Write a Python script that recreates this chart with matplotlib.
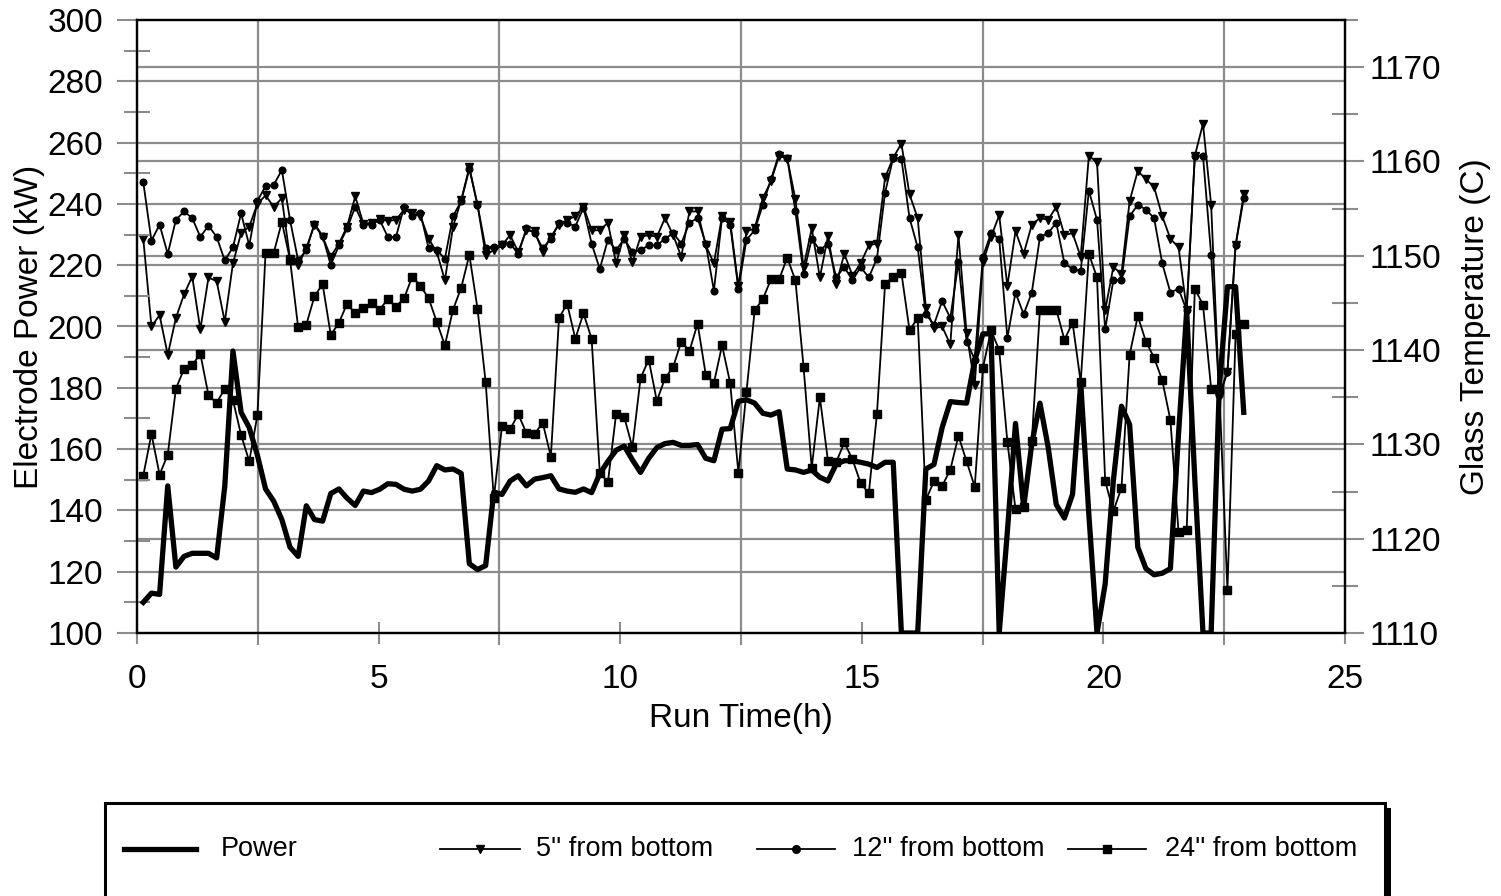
import matplotlib
matplotlib.use('Agg')
import matplotlib.pyplot as plt
from matplotlib.lines import Line2D
from matplotlib.patches import Rectangle
from matplotlib.ticker import MultipleLocator, FixedLocator
import numpy as np

plt.rcParams['font.family'] = ['Liberation Sans', 'DejaVu Sans']

# readings start at 0.13 h, one every ~10 min
t_start = 0.13
t_step = 0.1687

power_kw = [
    110, 113, 112.6, 148, 121.5, 125, 126, 126, 126, 124.5, 148, 192, 172, 167, 158, 147, 143, 137, 128, 125, 141.5, 137, 136.5, 145.5, 147,
    144, 141.6, 146.3, 145.8, 146.9, 148.7, 148.5, 146.9, 146.3, 146.9, 149.6, 154.6, 153.2, 153.5, 152.1, 122.6, 120.7, 122, 146, 145.2, 149.6, 151.3, 148, 150.2,
    150.7, 151.3, 147, 146.3, 145.9, 147, 145.8, 152, 156, 159.6, 161, 156.5, 152.4, 157, 160.5, 161.8, 162.2, 161.2, 161.2, 161.5, 157, 156.2, 166.5, 166.7,
    175.6, 176.1, 175, 171.7, 171.1, 172.2, 153.5, 153.2, 152.4, 153.2, 150.8, 149.6, 155.1, 156.2, 156.2, 155.7, 155.1, 154, 155.7, 155.7, 100, 100, 100, 153.5, 155,
    167, 175.5, 175.2, 175, 189, 197.6, 197.6, 100, 133, 168.4, 141, 161.8, 175, 160.7, 141.9, 137.5, 145.3, 181.6, 138.6, 100, 116, 149.6, 174, 168, 128,
    121, 119, 119.5, 121, 165, 205, 150, 100, 100, 180, 213, 213, 172,
]

temp_5in = [
    1151.8, 1142.5, 1143.7, 1139.5, 1143.4, 1145.9, 1147.8, 1142.2, 1147.7, 1147.3, 1143.0, 1149.2, 1152.4, 1153.1, 1155.5, 1156.4, 1155.2, 1156.1, 1149.7, 1149.0, 1150.8, 1153.3, 1152.0, 1149.9, 1151.3,
    1153.1, 1156.3, 1153.4, 1153.5, 1153.9, 1153.7, 1153.8, 1154.9, 1154.5, 1154.2, 1151.8, 1150.4, 1147.4, 1153.1, 1155.9, 1159.4, 1155.4, 1150.1, 1150.6, 1151.1, 1152.2, 1150.4, 1152.7, 1152.6,
    1150.4, 1152.0, 1153.3, 1153.8, 1154.2, 1155.2, 1152.7, 1152.7, 1153.5, 1149.2, 1152.2, 1149.3, 1152.0, 1152.2, 1152.0, 1154.0, 1152.2, 1149.9, 1154.7, 1154.7, 1151.1, 1149.2, 1154.2, 1153.6,
    1146.8, 1152.6, 1152.9, 1156.1, 1157.9, 1160.6, 1160.3, 1156.0, 1148.8, 1152.9, 1147.7, 1152.1, 1147.0, 1150.2, 1147.9, 1149.2, 1151.1, 1151.3, 1158.3, 1160.4, 1161.9, 1156.5, 1154.0, 1144.5, 1142.3,
    1142.5, 1140.6, 1152.2, 1141.8, 1136.3, 1149.3, 1152.0, 1154.3, 1146.8, 1152.6, 1150.2, 1153.3, 1154.0, 1153.8, 1155.2, 1152.2, 1152.4, 1149.9, 1160.6, 1159.9, 1144.2, 1148.8, 1148.1, 1155.8, 1159.0,
    1158.1, 1157.3, 1154.2, 1151.8, 1150.9, 1144.3, 1160.6, 1164.0, 1155.4, 1135.0, 1137.7, 1151.1, 1156.5,
]

temp_12in = [
    1157.8, 1151.6, 1153.3, 1150.2, 1153.8, 1154.7, 1154.0, 1152.0, 1153.2, 1152.0, 1149.5, 1150.9, 1154.5, 1151.1, 1155.8, 1157.4, 1157.5, 1159.1, 1153.8, 1149.5, 1150.6, 1153.4, 1152.1, 1149.0, 1151.1,
    1152.9, 1155.2, 1153.3, 1153.3, 1153.8, 1152.0, 1152.0, 1155.2, 1154.2, 1154.5, 1150.8, 1150.6, 1149.7, 1154.2, 1155.8, 1159.2, 1155.4, 1150.8, 1150.9, 1151.2, 1151.3, 1150.2, 1152.9, 1152.4,
    1150.8, 1151.8, 1153.5, 1153.5, 1153.1, 1155.1, 1151.3, 1148.6, 1151.7, 1150.6, 1151.8, 1150.4, 1150.6, 1151.1, 1151.1, 1151.8, 1152.4, 1151.3, 1153.5, 1154.0, 1151.3, 1146.3, 1154.0, 1153.3,
    1146.5, 1151.7, 1152.7, 1155.4, 1158.1, 1160.8, 1160.4, 1154.7, 1148.1, 1151.8, 1150.6, 1151.3, 1147.7, 1148.8, 1147.4, 1148.8, 1147.7, 1149.7, 1156.7, 1160.4, 1160.3, 1154.0, 1150.9, 1143.8, 1142.7,
    1145.2, 1143.4, 1149.3, 1140.9, 1139.0, 1149.9, 1152.4, 1151.8, 1141.3, 1146.1, 1143.8, 1146.1, 1152.0, 1152.4, 1153.5, 1149.2, 1148.6, 1148.4, 1156.9, 1153.8, 1142.2, 1147.4, 1147.4, 1154.2, 1155.4,
    1154.9, 1154.0, 1149.2, 1146.1, 1146.5, 1144.2, 1160.6, 1160.6, 1150.1, 1135.2, 1137.7, 1151.1, 1156.1,
]

temp_24in = [
    1126.7, 1131.1, 1126.8, 1128.9, 1135.9, 1138.0, 1138.4, 1139.6, 1135.2, 1134.4, 1135.9, 1134.7, 1131.0, 1128.2, 1133.1, 1150.3, 1150.3, 1153.6, 1149.6, 1142.4, 1142.7, 1145.7, 1147.0, 1141.6, 1142.9,
    1144.9, 1143.9, 1144.5, 1145.0, 1144.3, 1145.4, 1144.6, 1145.5, 1147.8, 1146.8, 1145.5, 1143.0, 1140.5, 1144.3, 1146.6, 1150.1, 1144.4, 1136.6, 1124.3, 1131.9, 1131.6, 1133.2, 1131.2, 1131.1,
    1132.3, 1128.7, 1143.4, 1144.9, 1141.2, 1143.9, 1141.2, 1127.0, 1126.0, 1133.2, 1132.9, 1129.7, 1137.0, 1139.0, 1134.6, 1137.0, 1138.2, 1140.9, 1139.9, 1142.8, 1137.4, 1136.5, 1140.5, 1136.5,
    1127.0, 1135.6, 1144.2, 1145.4, 1147.5, 1147.5, 1149.8, 1147.4, 1138.2, 1127.5, 1135.0, 1128.2, 1128.1, 1130.2, 1128.4, 1125.9, 1124.8, 1133.2, 1147.0, 1147.8, 1148.2, 1142.1, 1143.4, 1124.1, 1126.1,
    1125.6, 1127.3, 1130.9, 1128.2, 1125.5, 1138.1, 1142.1, 1140.0, 1130.3, 1123.1, 1123.4, 1130.4, 1144.3, 1144.3, 1144.3, 1141.1, 1142.9, 1136.6, 1150.2, 1147.7, 1126.1, 1122.9, 1125.4, 1139.5, 1143.6,
    1140.9, 1139.2, 1136.8, 1132.6, 1120.7, 1120.9, 1146.5, 1144.8, 1135.9, 1135.9, 1114.6, 1141.7, 1142.8,
]

legend_labels = ['Power', "5'' from bottom", "12'' from bottom", "24'' from bottom"]

run_time = t_start + t_step * np.arange(len(power_kw))

W, H = 1501, 896
grid_c = '#8c8c8c'
fs = 24

fig = plt.figure(figsize=(W / 100, H / 100), dpi=100)
ax1 = fig.add_axes([137 / W, 1 - 633 / H, (1345 - 137) / W, (633 - 20) / H])
ax2 = ax1.twinx()
# power axis on top, temperature axis (with the grid) underneath
ax1.set_zorder(ax2.get_zorder() + 1)
ax1.patch.set_visible(False)

ax1.set_xlim(0, 25)
ax1.set_ylim(100, 300)
ax2.set_ylim(1110, 1175)

# gridlines all live on the bottom axes
for v in range(1120, 1171, 10):
    ax2.axhline(v, color=grid_c, lw=1.6, zorder=0)
for v in range(120, 300, 20):
    ax2.add_line(Line2D([0, 1], [v, v], transform=ax1.get_yaxis_transform(),
                        color=grid_c, lw=1.6, zorder=0))
for v in [2.5, 7.5, 12.5, 17.5, 22.5]:
    ax2.axvline(v, color=grid_c, lw=1.6, zorder=0)

ax2.plot(run_time, temp_5in, color='black', lw=1.3, marker='v', ms=6.3)
ax2.plot(run_time, temp_12in, color='black', lw=1.3, marker='o', ms=4.8)
ax2.plot(run_time, temp_24in, color='black', lw=1.3, marker='s', ms=5.2)
ax1.plot(run_time, power_kw, color='black', lw=3.8, solid_joinstyle='round')

ax1.xaxis.set_major_locator(MultipleLocator(5))
ax1.xaxis.set_minor_locator(FixedLocator([2.5, 7.5, 12.5, 17.5, 22.5]))
ax1.yaxis.set_major_locator(MultipleLocator(20))
ax1.yaxis.set_minor_locator(FixedLocator(range(110, 300, 20)))
ax2.yaxis.set_major_locator(MultipleLocator(10))
ax2.yaxis.set_minor_locator(FixedLocator(range(1115, 1176, 10)))

ax1.tick_params(axis='x', which='major', direction='inout', length=16.5, width=1.5,
                color=grid_c, pad=14, labelsize=fs)
ax1.tick_params(axis='x', which='minor', direction='out', length=8.5, width=1.5, color=grid_c)
ax1.tick_params(axis='y', which='major', direction='out', length=14.4, width=1.5,
                color=grid_c, pad=10, labelsize=fs)
ax1.tick_params(axis='y', which='minor', direction='inout', length=19.4, width=1.5, color=grid_c)
ax2.tick_params(axis='y', which='major', direction='out', length=13.7, width=1.5,
                color=grid_c, pad=3.6, labelsize=fs)
ax2.tick_params(axis='y', which='minor', direction='inout', length=19.4, width=1.5, color=grid_c)

for ax in (ax1, ax2):
    for s in ax.spines.values():
        s.set_linewidth(1.6)
        s.set_color('black')

ax1.set_xlabel('Run Time(h)', fontsize=fs, labelpad=6)
ax1.set_ylabel('Electrode Power (kW)', fontsize=fs, labelpad=2)
ax2.set_ylabel('Glass Temperature (C)', fontsize=fs, labelpad=14)

# legend box at the bottom (runs off the lower edge)
fx = lambda px: px / W
fy = lambda py: 1 - py / H
fig.add_artist(Rectangle((fx(105), fy(910)), fx(1385) - fx(105), fy(803) - fy(910),
                         transform=fig.transFigure, fill=False, lw=2.2, ec='black'))
fig.add_artist(Rectangle((fx(1385), fy(910)), fx(6), fy(808) - fy(910),
                         transform=fig.transFigure, fc='black', ec='none'))

ly = fy(849)
entries = [
    (124, 196, None, 3.8, 221),
    (440, 520, 'v', 1.3, 536),
    (757, 835, 'o', 1.3, 852),
    (1068, 1146, 's', 1.3, 1165),
]
for (x0, x1, mk, lw, tx), lab in zip(entries, legend_labels):
    fig.add_artist(Line2D([fx(x0), fx(x1)], [ly, ly], transform=fig.transFigure,
                          color='black', lw=lw))
    if mk:
        fig.add_artist(Line2D([fx((x0 + x1) / 2)], [ly], transform=fig.transFigure,
                              color='black', marker=mk, ms=5.5))
    fig.text(fx(tx), ly, lab, fontsize=19.5, va='center', ha='left')

fig.savefig('out.png', dpi=100)
